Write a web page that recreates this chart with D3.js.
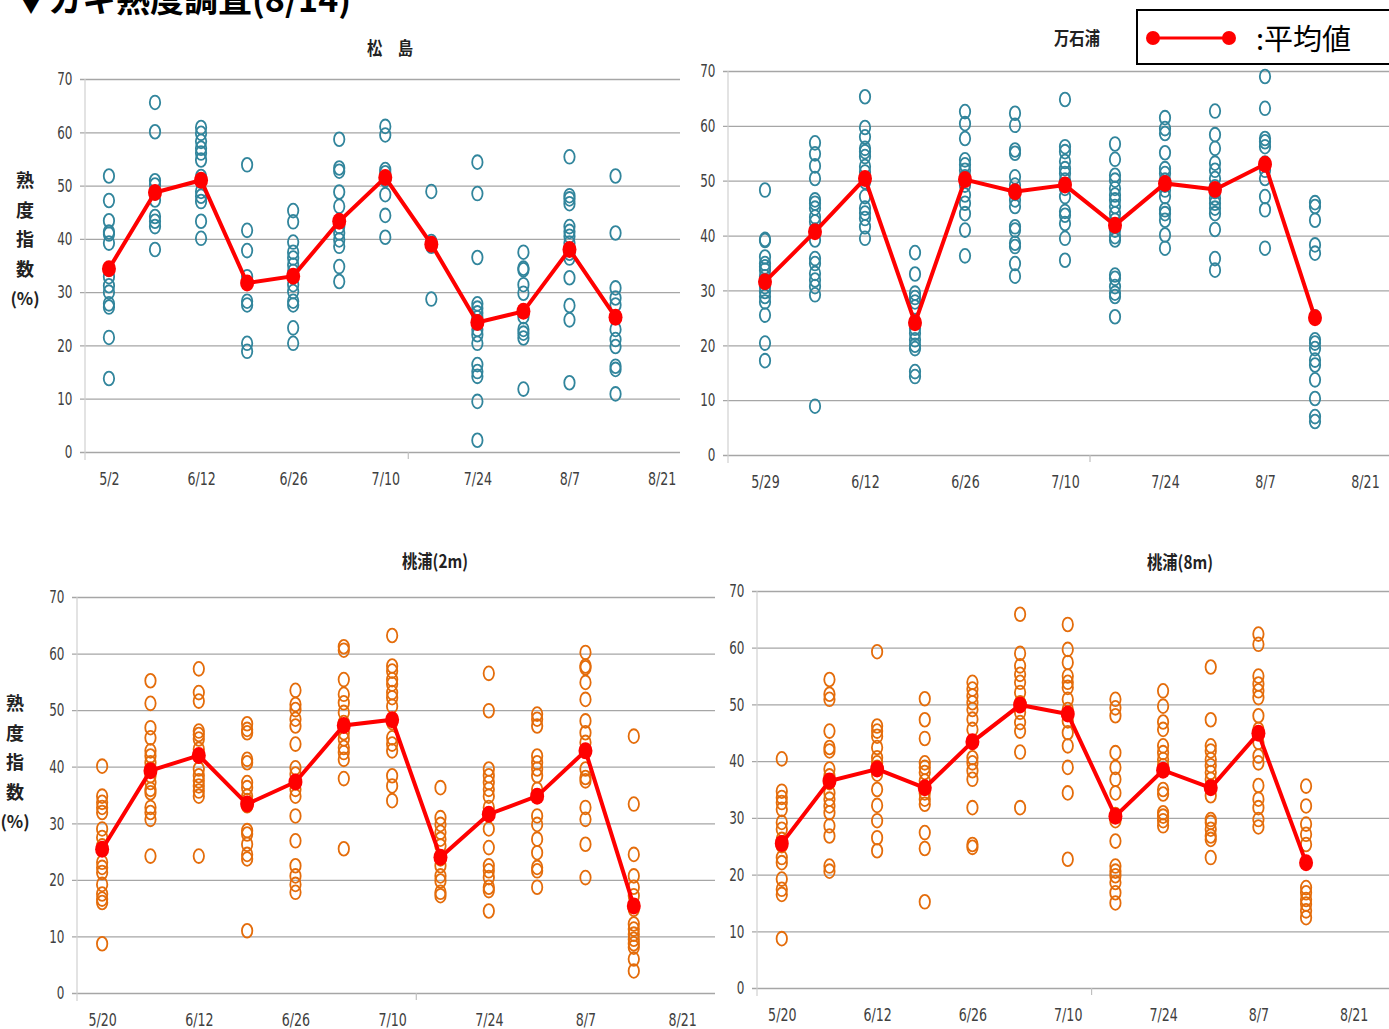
<!DOCTYPE html>
<html lang="ja">
<head>
<meta charset="utf-8">
<title>カキ熟度調査</title>
<script src="https://cdn.jsdelivr.net/npm/d3@7"></script>
<style>
  body { margin: 0; background: #fff; }
  svg { display: block; }
  .tick text { font-family: "Liberation Sans Narrow", "DejaVu Sans Condensed", sans-serif; fill: #404040; }
  .jp { font-family: "Noto Sans CJK JP", sans-serif; }
</style>
</head>
<body>
<svg id="chart" width="1389" height="1029"></svg>
<script>
// tick labels (one per two sampling slots)
const matsushimaTicks = ["5/2", "6/12", "6/26", "7/10", "7/24", "8/7", "8/21"];
const mangokuuraTicks = ["5/29", "6/12", "6/26", "7/10", "7/24", "8/7", "8/21"];
const momonouraTicks = ["5/20", "6/12", "6/26", "7/10", "7/24", "8/7", "8/21"];
const yTicks = [0, 10, 20, 30, 40, 50, 60, 70];

// 松島 : individual values per sampling, and the mean
const matsushimaPts = [
  [51.8, 47.2, 43.4, 41.3, 40.9, 39.2, 34.3, 32.9, 31.2, 30, 27.8, 27.2, 21.5, 13.8],
  [65.6, 60.1, 50.9, 50.1, 48.6, 47.3, 44.2, 43.3, 42.3, 38],
  [60.9, 59.8, 58.3, 57, 56.1, 54.8, 51.7, 50.8, 48.9, 48, 47, 43.3, 40.1],
  [53.9, 41.6, 37.8, 32.9, 28.3, 27.6, 20.4, 18.9],
  [45.3, 43.2, 39.4, 37.5, 36.4, 35.1, 33.9, 32.9, 31.4, 30.1, 28.3, 27.6, 23.3, 20.4],
  [58.7, 53.3, 52.7, 48.8, 46.1, 42.3, 41.1, 39.8, 38.6, 34.8, 32],
  [61.1, 59.5, 53, 52.4, 51.1, 48.3, 44.4, 40.3],
  [48.9, 39.5, 38.6, 28.7],
  [54.4, 48.5, 36.5, 27.8, 27, 26.1, 25.2, 24.2, 23, 22, 20.4, 16.4, 15.1, 14.2, 9.5, 2.2],
  [37.5, 34.5, 34.2, 31.4, 29.8, 26.4, 25.4, 23, 22.3, 21.4, 11.8],
  [55.4, 48.1, 47.5, 46.6, 42.3, 41.4, 40.5, 39.2, 37.3, 36.4, 32.7, 27.5, 24.8, 13],
  [51.8, 41.1, 30.8, 28.9, 27.6, 23, 21.1, 19.8, 16.1, 15.5, 10.9]
];
const matsushimaMean = [34.4, 48.7, 51, 31.7, 33, 43.3, 51.5, 39, 24.3, 26.4, 38, 25.3];

// 万石浦
const mangokuuraPts = [
  [48.3, 39.3, 39.1, 36.1, 34.9, 34.3, 33.7, 32.5, 31.6, 30.7, 29.8, 28.9, 27.9, 25.5, 20.4, 17.2],
  [56.9, 54.9, 52.7, 50.4, 46.5, 45.9, 45, 43.4, 42.5, 41, 39.2, 35.8, 34.9, 33.1, 31.9, 30.7, 29.2, 8.9],
  [65.3, 59.7, 58, 55.9, 55.3, 54.4, 52.6, 51.6, 49.8, 47.1, 45, 44.1, 43.1, 41.6, 39.5],
  [36.9, 33, 29.5, 28.7, 27.9, 27, 24.3, 23.1, 22.2, 21, 20, 19.4, 15.2, 14.3],
  [62.6, 60.4, 57.7, 53.8, 52.9, 51.9, 50.7, 49.2, 47.4, 45.9, 44, 41, 36.3],
  [62.3, 60.1, 55.6, 55, 50.7, 49.2, 47.7, 46.5, 45.3, 41.6, 41, 38.6, 38, 34.9, 32.6],
  [64.8, 56.2, 55.3, 53.5, 52.2, 51.3, 50.1, 48.6, 47.1, 44.4, 43.7, 42.2, 39.5, 35.5],
  [56.7, 53.9, 51, 50.1, 48.6, 47.4, 46.5, 45.3, 44, 42.8, 41, 39.8, 39.2, 32.8, 32.2, 30.7, 29.5, 28.9, 25.2],
  [61.5, 59.5, 58.6, 55.1, 52.2, 51.3, 50.1, 49.2, 48.3, 47.1, 44.7, 44, 42.8, 40.1, 37.7],
  [62.7, 58.4, 55.9, 53.2, 51.9, 50.4, 48.9, 48, 46.8, 45.9, 45, 44, 41.1, 35.8, 33.7],
  [69, 63.2, 57.7, 57.1, 56.2, 53.2, 51.9, 50.4, 47.1, 44.7, 37.7],
  [46, 45.3, 42.8, 38.3, 36.8, 25.2, 21, 20.4, 19.4, 17.3, 16.4, 13.7, 10.3, 7, 6.1]
];
const mangokuuraMean = [31.6, 40.7, 50.4, 24.1, 50.2, 48, 49.2, 41.9, 49.5, 48.4, 53, 25];

// 桃浦(2m)
const momo2Pts = [
  [40.1, 34.8, 33.7, 32.8, 31.9, 29, 27.5, 26, 23.1, 22.2, 21.3, 19.2, 17.5, 16.6, 16, 8.7],
  [55.2, 51.2, 46.9, 45.1, 42.8, 41.9, 40.7, 39.6, 38.4, 37.2, 36, 35.4, 32.8, 31.9, 30.7, 24.2],
  [57.3, 53.1, 51.6, 46.3, 45.7, 44.9, 43.1, 41.9, 39.6, 38.4, 37.5, 36.6, 35.7, 34.8, 24.2],
  [47.6, 46.6, 46, 41.3, 40.7, 37.2, 36.3, 34.8, 34, 33.1, 28.7, 28.1, 26.3, 24.5, 23.7, 11],
  [53.5, 51, 50.1, 48.4, 47.2, 44, 39.8, 38.7, 37.2, 36, 34.8, 31.3, 26.9, 22.5, 20.7, 19.2, 17.8],
  [61.2, 60.6, 55.4, 52.8, 51.3, 49.6, 47.8, 46, 44.9, 43.4, 42.5, 41.3, 37.9, 25.5],
  [63.2, 57.8, 56.9, 55.4, 54.6, 53.1, 52.2, 50.7, 48.4, 47.8, 45.1, 44, 42.8, 38.4, 36.6, 34],
  [36.3, 31, 29.8, 28.4, 27.2, 26, 23.7, 22.5, 20.7, 19.8, 17.8, 17.2],
  [56.5, 49.9, 39.6, 38.4, 37.2, 36, 34.8, 32.8, 29, 25.7, 22.5, 21.6, 20.4, 18.7, 18.1, 14.5],
  [49.3, 48.4, 47.2, 41.9, 40.7, 39.6, 38.4, 36, 34.8, 31.3, 29.8, 27.2, 24.8, 22.2, 21.6, 18.7],
  [60.2, 57.8, 57.5, 54.9, 51.9, 48.1, 46, 44.3, 39.6, 38.1, 37.5, 32.8, 30.7, 26.3, 20.4],
  [45.4, 33.4, 24.5, 20.7, 18.7, 17.2, 14.8, 12.2, 11.3, 10.4, 9.5, 8.7, 8.1, 6, 3.9]
];
const momo2Mean = [25.4, 39.3, 42, 33.4, 37.3, 47.3, 48.3, 24, 31.6, 34.8, 42.8, 15.4];

// 桃浦(8m)
const momo8Pts = [
  [40.4, 34.7, 33.6, 32.7, 31.5, 29.2, 28, 26.2, 25.1, 23, 22.1, 19.2, 17.4, 16.5, 8.7],
  [54.4, 51.8, 50.9, 45.3, 42.4, 41.8, 38.6, 37.4, 36.2, 34.4, 33.3, 32.1, 30.9, 28.6, 26.8, 21.5, 20.6],
  [59.3, 46.2, 45.3, 44.4, 42.4, 40.6, 39.7, 38.9, 37.7, 35, 32.2, 29.5, 26.5, 24.2],
  [51, 47.3, 44, 39.7, 38.9, 38, 36.5, 35.3, 34.4, 33.3, 32.4, 27.4, 24.6, 15.2],
  [53.9, 52.7, 51.5, 50.3, 49.1, 47.4, 45.6, 43.3, 40.6, 39.7, 38.3, 36.8, 31.8, 25.3, 24.8],
  [65.9, 59, 56.8, 55.3, 53.9, 52.1, 50.3, 48.6, 46.8, 45.3, 41.6, 31.8],
  [64.1, 59.7, 57.4, 55, 53.9, 53, 50.9, 49.1, 47.1, 45, 42.7, 38.9, 34.4, 22.7],
  [50.9, 49.4, 48, 41.5, 38.9, 36.8, 34.4, 30.6, 29.5, 25.9, 21.5, 20.6, 19.8, 18.6, 16.8, 15],
  [52.4, 49.7, 46.9, 45.6, 42.7, 41.5, 40.3, 39.2, 35, 34.2, 30.9, 30.3, 29.5, 28.6],
  [56.6, 47.3, 42.7, 41.8, 40.3, 39.2, 38, 36.8, 35.6, 33.9, 29.7, 29.2, 28, 26.8, 26.2, 23],
  [62.4, 60.6, 55, 53.6, 52.4, 51.2, 48, 45.6, 43.3, 40.9, 39.7, 35.7, 33.3, 31.8, 29.7, 28.4],
  [35.6, 32.1, 28.9, 27.1, 25.3, 22.1, 17.7, 16.8, 15.6, 14.8, 13.6, 12.4]
];
const momo8Mean = [25.5, 36.5, 38.6, 35.3, 43.4, 49.9, 48.3, 30.3, 38.4, 35.3, 44.9, 22.1];

const teal = "#31859c", orange = "#e46c0a", red = "#ff0000";

// layout of the four panels
const panels = [
  { title: "松　島", pts: matsushimaPts, mean: matsushimaMean, ticks: matsushimaTicks, color: teal,
    xd: [-0.52, 12.4], xr: [85, 680], yr: [452, 79], tx: 390, ty: 55, ylab: [25, 180] },
  { title: "万石浦", pts: mangokuuraPts, mean: mangokuuraMean, ticks: mangokuuraTicks, color: teal,
    xd: [-0.74, 12.48], xr: [728, 1389], yr: [455, 71], tx: 1077, ty: 45 },
  { title: "桃浦(2m)", pts: momo2Pts, mean: momo2Mean, ticks: momonouraTicks, color: orange,
    xd: [-0.52, 12.68], xr: [77, 715], yr: [993, 597], tx: 435, ty: 568, ylab: [15, 703] },
  { title: "桃浦(8m)", pts: momo8Pts, mean: momo8Mean, ticks: momonouraTicks, color: orange,
    xd: [-0.52, 12.74], xr: [757, 1389], yr: [988, 591], tx: 1180, ty: 569 }
];

const svg = d3.select("#chart");

// page heading, cut at the top edge like the source
svg.append("text").attr("class", "jp")
  .attr("x", 14).attr("y", 12)
  .attr("font-size", 34).attr("font-weight", "bold").attr("fill", "#000")
  .text("▼カキ熟度調査(8/14)");

panels.forEach(p => {
  const x = d3.scaleLinear().domain(p.xd).range(p.xr);
  const y = d3.scaleLinear().domain([0, 70]).range(p.yr);
  const g = svg.append("g");
  const w = p.xr[1] - p.xr[0];

  // gridlines + y labels
  const ya = g.append("g").attr("transform", `translate(${p.xr[0]},0)`)
    .call(d3.axisLeft(y).tickValues(yTicks).tickSize(-w).tickPadding(17));
  ya.select(".domain").remove();
  ya.selectAll(".tick line").attr("stroke", "#a6a6a6").attr("stroke-width", 1.3)
    .attr("x1", -5);
  ya.selectAll(".tick text").attr("font-size", 18)
    .attr("transform", "scale(0.74,1)");

  // vertical axis line
  g.append("line")
    .attr("x1", p.xr[0]).attr("x2", p.xr[0])
    .attr("y1", y(70)).attr("y2", y(0) + 8)
    .attr("stroke", "#d0d0d0").attr("stroke-width", 1.2);

  // x labels
  const xa = g.append("g").attr("transform", `translate(0,${y(0)})`)
    .call(d3.axisBottom(x).tickValues(d3.range(0, 13, 2))
      .tickFormat((d, i) => p.ticks[i]).tickSize(0).tickPadding(20));
  xa.select(".domain").remove();
  xa.selectAll(".tick text").attr("font-size", 18)
    .attr("transform", "scale(0.78,1)");

  // small tick at the middle of the axis
  g.append("line")
    .attr("x1", x(6.5)).attr("x2", x(6.5))
    .attr("y1", y(0)).attr("y2", y(0) + 7)
    .attr("stroke", "#c0c0c0").attr("stroke-width", 1.2);

  // individual samples
  const flat = p.pts.flatMap((vals, i) => vals.map(v => ({ i, v })));
  g.append("g").selectAll("ellipse").data(flat).join("ellipse")
    .attr("cx", d => x(d.i)).attr("cy", d => y(d.v))
    .attr("rx", 5.2).attr("ry", 6.9)
    .attr("fill", "none").attr("stroke", p.color).attr("stroke-width", 1.8);

  // mean line
  const line = d3.line().x((d, i) => x(i)).y(d => y(d));
  g.append("path").datum(p.mean)
    .attr("d", line).attr("fill", "none")
    .attr("stroke", red).attr("stroke-width", 4);
  g.append("g").selectAll("ellipse").data(p.mean).join("ellipse")
    .attr("cx", (d, i) => x(i)).attr("cy", d => y(d))
    .attr("rx", 7).attr("ry", 8.5).attr("fill", red);

  // panel title
  g.append("text").attr("class", "jp")
    .attr("x", p.tx).attr("y", p.ty).attr("text-anchor", "middle")
    .attr("font-size", 18).attr("font-weight", "bold").attr("fill", "#222")
    .attr("transform", `translate(${p.tx},0) scale(0.85,1) translate(${-p.tx},0)`)
    .text(p.title);

  // vertical y-axis caption
  if (p.ylab) {
    const chars = ["熟", "度", "指", "数", "(%)"];
    g.append("g").selectAll("text").data(chars).join("text").attr("class", "jp")
      .attr("x", p.ylab[0]).attr("y", (d, i) => p.ylab[1] + i * 29.5 + 7)
      .attr("text-anchor", "middle")
      .attr("font-size", (d, i) => i < 4 ? 18 : 17).attr("font-weight", "bold")
      .attr("fill", "#222")
      .text(d => d);
  }
});

// legend
const lg = svg.append("g");
lg.append("rect").attr("x", 1137).attr("y", 10).attr("width", 270).attr("height", 54)
  .attr("fill", "#fff").attr("stroke", "#000").attr("stroke-width", 2);
lg.append("line").attr("x1", 1153).attr("x2", 1229).attr("y1", 38).attr("y2", 38)
  .attr("stroke", red).attr("stroke-width", 3);
lg.selectAll("circle").data([1153, 1229]).join("circle")
  .attr("cx", d => d).attr("cy", 38).attr("r", 7).attr("fill", red);
lg.append("text").attr("class", "jp")
  .attr("x", 1256).attr("y", 50).attr("font-size", 29).attr("fill", "#000")
  .text(":平均値");
</script>
</body>
</html>
